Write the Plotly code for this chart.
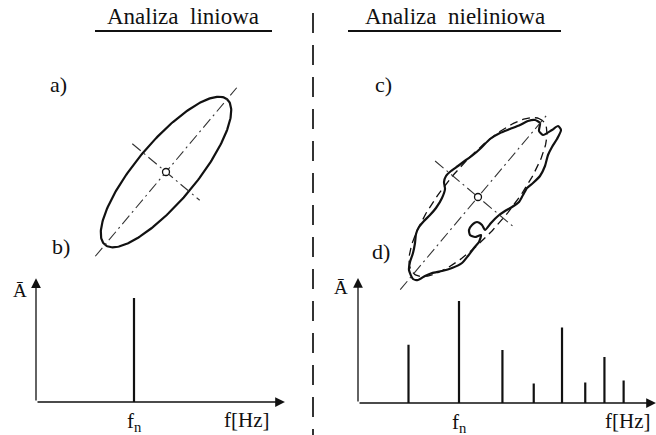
import numpy as np
import plotly.graph_objects as go

W, H = 656, 435
INK = "#111111"
AXIS_GREY = "#333333"
SERIF = "Liberation Serif, Times New Roman, serif"

# --- spectra (frequency in units of f_n, amplitude normalised) ---
lin_freq = [1.0]
lin_amp = [1.0]
nl_freq = [0.5, 1.0, 1.43, 1.74, 2.02, 2.25, 2.44, 2.63]
nl_amp = [0.57, 1.0, 0.52, 0.19, 0.74, 0.20, 0.45, 0.22]

# --- orbit of the linear system: ellipse parameters ---
lin_a, lin_b, lin_angle = 95, 30, 50          # semi-axes, tilt in degrees
lin_major = (-110, 110)                        # extent of principal axis line
lin_minor = (-44, 44)                          # extent of secondary axis line

# --- orbit of the nonlinear system: traced outline and reference ellipse ---
nl_a, nl_b, nl_angle = 100, 33, 50
nl_major = (-121, 109)
nl_minor = (-56, 49)
blob_x = [-65, -69, -68, -65, -63, -62, -59, -54, -48, -42, -36, -33, -34, -32,
          -27, -20, -12, -5, 3, 12, 22, 32, 42, 50, 57, 62, 61, 65, 74, 80, 83,
          79, 74, 70, 67, 62, 55, 49, 45, 41, 34, 27, 20, 13, 7, 4, -1, -6, -9,
          -8, -3, 3, 1, -4, -10, -16, -26, -36, -46, -53, -60, -65]
blob_y = [-82, -73, -65, -56, -46, -37, -30, -24, -18, -11, -1, 8, 15, 21,
          26, 31, 37, 42, 49, 58, 64, 68, 72, 76, 77, 74, 66, 62, 67, 71, 67,
          58, 50, 42, 31, 21, 14, 9, 2, -5, -10, -14, -19, -26, -33, -28, -25,
          -28, -33, -38, -40, -38, -45, -51, -59, -66, -71, -74, -76, -79, -83, -82]

fig = go.Figure()


def px_dom_x(a, b):
    return [a / W, b / W]


def px_dom_y(top, bottom):
    return [1 - bottom / H, 1 - top / H]


hidden = dict(visible=False, fixedrange=True)

fig.update_layout(
    # spectrum panels
    xaxis=dict(domain=px_dom_x(36, 36 + 2.6 * 98), range=[0, 2.6], anchor="y", **hidden),
    yaxis=dict(domain=px_dom_y(402 - 1.25 * 104, 402), range=[0, 1.25], anchor="x", **hidden),
    xaxis2=dict(domain=px_dom_x(358, 656), range=[0, 298 / 101], anchor="y2", **hidden),
    yaxis2=dict(domain=px_dom_y(403 - 1.25 * 102, 403), range=[0, 1.25], anchor="x2", **hidden),
    # orbit panels (one unit = one pixel)
    xaxis3=dict(domain=px_dom_x(166 - 130, 166 + 130), range=[-130, 130], anchor="y3", **hidden),
    yaxis3=dict(domain=px_dom_y(172 - 130, 172 + 130), range=[-130, 130], anchor="x3", **hidden),
    xaxis4=dict(domain=px_dom_x(478 - 130, 478 + 130), range=[-130, 130], anchor="y4", **hidden),
    yaxis4=dict(domain=px_dom_y(197 - 130, 197 + 130), range=[-130, 130], anchor="x4", **hidden),
)


def stems(freq, amp, xa, ya):
    xs, ys = [], []
    for f, a in zip(freq, amp):
        xs += [f, f, None]
        ys += [0, a, None]
    fig.add_trace(go.Scatter(x=xs, y=ys, mode="lines", xaxis=xa, yaxis=ya,
                             line=dict(color=INK, width=2.2), hoverinfo="skip"))


stems(lin_freq, lin_amp, "x", "y")
stems(nl_freq, nl_amp, "x2", "y2")


def ellipse(a, b, angle, xa, ya, dash, width):
    t = np.linspace(0, 2 * np.pi, 240)
    th = np.radians(angle)
    u, v = a * np.cos(t), b * np.sin(t)
    x = u * np.cos(th) - v * np.sin(th)
    y = u * np.sin(th) + v * np.cos(th)
    fig.add_trace(go.Scatter(x=x, y=y, mode="lines", xaxis=xa, yaxis=ya,
                             line=dict(color=INK, width=width, dash=dash),
                             hoverinfo="skip"))


def axes_cross(angle, major, minor, xa, ya):
    th = np.radians(angle)
    dmaj = (np.cos(th), np.sin(th))
    dmin = (np.sin(th), -np.cos(th))
    for (lo, hi), d in ((major, dmaj), (minor, dmin)):
        fig.add_trace(go.Scatter(x=[lo * d[0], hi * d[0]], y=[lo * d[1], hi * d[1]],
                                 mode="lines", xaxis=xa, yaxis=ya,
                                 line=dict(color=AXIS_GREY, width=1.1,
                                           dash="11px,4px,2px,4px"),
                                 hoverinfo="skip"))
    fig.add_trace(go.Scatter(x=[0], y=[0], mode="markers", xaxis=xa, yaxis=ya,
                             marker=dict(symbol="circle", size=7, color="white",
                                         line=dict(color=INK, width=1.3)),
                             hoverinfo="skip"))


ellipse(lin_a, lin_b, lin_angle, "x3", "y3", "solid", 2.2)
axes_cross(lin_angle, lin_major, lin_minor, "x3", "y3")

ellipse(nl_a, nl_b, nl_angle, "x4", "y4", "8px,5px", 1.3)
fig.add_trace(go.Scatter(x=blob_x, y=blob_y, mode="lines", xaxis="x4", yaxis="y4",
                         line=dict(color=INK, width=2.2, shape="spline", smoothing=0.6),
                         hoverinfo="skip"))
axes_cross(nl_angle, nl_major, nl_minor, "x4", "y4")

annotations = []


def arrow(xr, yr, x0, y0, x1, y1):
    annotations.append(dict(x=x1, y=y1, ax=x0, ay=y0, xref=xr, yref=yr,
                            axref=xr, ayref=yr, text="", showarrow=True,
                            arrowhead=2, arrowsize=1.5, arrowwidth=1.3,
                            arrowcolor=INK))


def label(text, x, y, xr="paper", yr="paper", size=22, **kw):
    annotations.append(dict(text=text, x=x, y=y, xref=xr, yref=yr, showarrow=False,
                            xanchor="center", yanchor="middle",
                            font=dict(family=SERIF, size=size, color=INK), **kw))


# coordinate arrows
arrow("x", "y", 0, 0, 2.54, 0)
arrow("x", "y", 0, 0, 0, 1.19)
arrow("x2", "y2", 0, 0, 2.95, 0)
arrow("x2", "y2", 0, 0, 0, 1.225)

# axis texts
label("Ā", 20 / W, 1 - 290 / H, size=19)
label("Ā", 341 / W, 1 - 287 / H, size=19)
label("f<sub>n</sub>", 1.0, 0, "x", "y", size=21, yshift=-20)
label("f<sub>n</sub>", 1.0, 0, "x2", "y2", size=21, yshift=-20)
label("f[Hz]", 2.15, 0, "x", "y", size=21, yshift=-18)
label("f[Hz]", 2.67, 0, "x2", "y2", size=21, yshift=-18)

# panel letters
label("a)", 58 / W, 1 - 85 / H)
label("b)", 61 / W, 1 - 246 / H)
label("c)", 383 / W, 1 - 85 / H)
label("d)", 381 / W, 1 - 251 / H)

# headings
label("Analiza&nbsp;&nbsp;liniowa", 183 / W, 1 - 16 / H, size=23)
label("Analiza&nbsp;&nbsp;nieliniowa", 455 / W, 1 - 16 / H, size=23)

fig.update_layout(
    annotations=annotations,
    shapes=[
        dict(type="line", xref="paper", yref="paper", x0=95 / W, x1=272 / W,
             y0=1 - 31 / H, y1=1 - 31 / H, line=dict(color=INK, width=2)),
        dict(type="line", xref="paper", yref="paper", x0=348 / W, x1=561 / W,
             y0=1 - 31 / H, y1=1 - 31 / H, line=dict(color=INK, width=2)),
        dict(type="line", xref="paper", yref="paper", x0=313 / W, x1=313 / W,
             y0=1 - 13 / H, y1=0, line=dict(color=AXIS_GREY, width=2, dash="20px,12px")),
    ],
    width=W, height=H, margin=dict(l=0, r=0, t=0, b=0),
    paper_bgcolor="white", plot_bgcolor="rgba(0,0,0,0)",
    showlegend=False,
)

fig.write_html("out.html", config={"displayModeBar": False})
